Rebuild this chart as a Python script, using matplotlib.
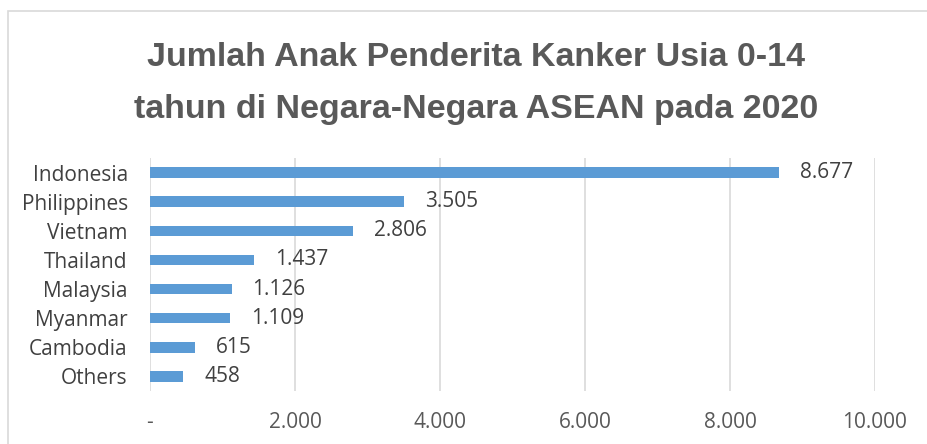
import matplotlib
matplotlib.use("Agg")
import matplotlib.pyplot as plt
from matplotlib.patches import Rectangle

countries = ["Indonesia", "Philippines", "Vietnam", "Thailand", "Malaysia", "Myanmar", "Cambodia", "Others"]
values = [8677, 3505, 2806, 1437, 1126, 1109, 615, 458]
xticks = [0, 2000, 4000, 6000, 8000, 10000]
xticklabels = ["-", "2.000", "4.000", "6.000", "8.000", "10.000"]
title_lines = ["Jumlah Anak Penderita Kanker Usia 0-14",
               "tahun di Negara-Negara ASEAN pada 2020"]

title_font = "Liberation Sans"
body_font = "Open Sans"
FS = 15

W, H = 928, 444
fig = plt.figure(figsize=(W / 100, H / 100), dpi=100)
fig.patch.set_facecolor("white")

# chart border
fig.add_artist(Rectangle((8 / W, -0.05), 1.2, 1 - 11 / H + 0.05, transform=fig.transFigure,
                         fill=False, edgecolor="#d9d9d9", linewidth=1.2))

ax = fig.add_axes([150 / W, 1 - 391 / H, (875 - 150) / W, (391 - 158) / H])
y = list(range(len(countries)))
ax.barh(y, values, height=0.36, color="#5b9bd5", zorder=3)
ax.set_ylim(len(countries) - 0.5, -0.5)
ax.set_xlim(0, 10000)
ax.set_yticks(y)
ax.set_yticklabels(countries, fontfamily=body_font, fontsize=FS, color="#404040")
ax.set_xticks(xticks)
ax.set_xticklabels(xticklabels, fontfamily=body_font, fontsize=FS, color="#595959")
ax.tick_params(axis="both", length=0)
ax.tick_params(axis="x", pad=15)
ax.tick_params(axis="y", pad=16)
ax.grid(axis="x", color="#d9d9d9", linewidth=1.2, zorder=0)
for s in ax.spines.values():
    s.set_visible(False)

for yi, v in zip(y, values):
    lab = f"{v:,}".replace(",", ".")
    ax.annotate(lab, (v, yi), xytext=(15, 0), textcoords="offset points",
                va="center", ha="left", fontfamily=body_font, fontsize=FS, color="#404040")

for i, (line, base) in enumerate(zip(title_lines, [66, 118])):
    fig.text(476 / W, 1 - base / H, line, ha="center", va="baseline", fontfamily=title_font,
             fontweight="bold", fontsize=24.5, color="#595959")

fig.savefig("out.png", dpi=100)
